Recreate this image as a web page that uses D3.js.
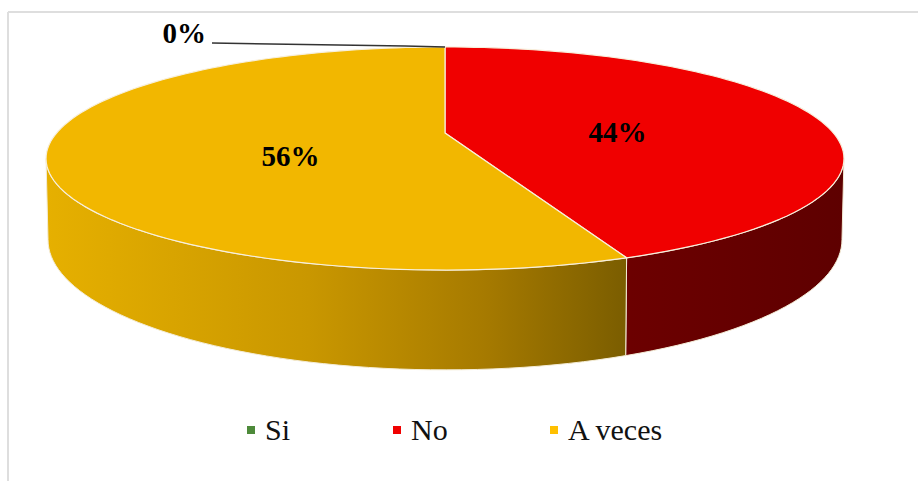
<!DOCTYPE html>
<html><head><meta charset="utf-8">
<script src="https://cdn.jsdelivr.net/npm/d3@7/dist/d3.min.js"></script>
<style>body{margin:0;background:#fff}svg{display:block}</style>
</head><body>
<svg id="c" width="918" height="481"></svg>
<script>
const categories = ["Si", "No", "A veces"];
const values = [0, 44, 56];
const labels = ["0%", "44%", "56%"];
const topColors = ["#548235", "#F00000", "#F2B700"];
const legendColors = ["#4E8A3A", "#F00000", "#FFC000"];

const W = 918, H = 481;
const svg = d3.select("#c");
const serif = "'Liberation Serif', 'Times New Roman', serif";
// frame
svg.append("line").attr("x1", 8).attr("y1", 12).attr("x2", W).attr("y2", 12).attr("stroke", "#dedede").attr("stroke-width", 2);
svg.append("line").attr("x1", 8).attr("y1", 12).attr("x2", 8).attr("y2", H).attr("stroke", "#dedede").attr("stroke-width", 2);

// perspective pie projection
const cx = 445, cy = 133, A = 388.4, B = 105.7, k = 0.2287, D = 77;
function proj(theta, r = 1) {
  const u = r * Math.sin(theta), v = -r * Math.cos(theta);
  const w = 1 - k * v;
  return [cx + A * u / w, cy + B * v / w, w];
}
function projBottom(theta) {
  const p = proj(theta);
  return [cx + (p[0] - cx) * 0.995, p[1] + D / p[2]];
}

const pie = d3.pie().sort(null).value(d => d)(values);
const defs = svg.append("defs");
const g1 = defs.append("linearGradient").attr("id", "gY").attr("gradientUnits", "userSpaceOnUse")
  .attr("x1", 45).attr("x2", 632).attr("y1", 0).attr("y2", 0);
g1.append("stop").attr("offset", 0).attr("stop-color", "#E6B000");
g1.append("stop").attr("offset", 0.45).attr("stop-color", "#C99700");
g1.append("stop").attr("offset", 0.75).attr("stop-color", "#A67A00");
g1.append("stop").attr("offset", 1).attr("stop-color", "#795C00");
const g2 = defs.append("linearGradient").attr("id", "gR").attr("gradientUnits", "userSpaceOnUse")
  .attr("x1", 630).attr("x2", 845).attr("y1", 0).attr("y2", 0);
g2.append("stop").attr("offset", 0).attr("stop-color", "#6C0000");
g2.append("stop").attr("offset", 1).attr("stop-color", "#5E0000");
const sideFill = ["#3a5a25", "url(#gR)", "url(#gY)"];

const visA = Math.acos(-k), visB = 2 * Math.PI - Math.acos(-k);
const N = 200;
function arcPts(a0, a1, fn) {
  const pts = [];
  const n = Math.max(2, Math.ceil(N * (a1 - a0) / (2 * Math.PI)));
  for (let i = 0; i <= n; i++) pts.push(fn(a0 + (a1 - a0) * i / n));
  return pts;
}
const line = d3.line();
// side walls
pie.forEach((p, i) => {
  const a0 = Math.max(p.startAngle, visA), a1 = Math.min(p.endAngle, visB);
  if (a1 <= a0) return;
  const top = arcPts(a0, a1, t => proj(t).slice(0, 2));
  const bot = arcPts(a0, a1, projBottom).reverse();
  svg.append("path").attr("d", line(top.concat(bot)) + "Z")
    .attr("fill", sideFill[i]).attr("stroke", "#f4ecd6").attr("stroke-width", 1).attr("stroke-linejoin", "round");
});
// top faces
const centroids = [];
pie.forEach((p, i) => {
  if (p.endAngle - p.startAngle <= 0) { centroids.push(null); return; }
  const pts = [[cx, cy]].concat(arcPts(p.startAngle, p.endAngle, t => proj(t).slice(0, 2)));
  centroids.push(d3.polygonCentroid(pts));
  svg.append("path").attr("d", line(pts) + "Z")
    .attr("fill", topColors[i]).attr("stroke", "#f7efdc").attr("stroke-width", 1.2).attr("stroke-linejoin", "round");
});
// labels
pie.forEach((p, i) => {
  if (centroids[i]) {
    svg.append("text").attr("x", centroids[i][0] - 21).attr("y", centroids[i][1] - 12).attr("dy", "0.35em")
      .attr("text-anchor", "middle").attr("font-family", serif).attr("font-weight", "bold")
      .attr("font-size", 29).attr("fill", "#000").text(labels[i]);
  } else {
    const tp = proj(p.startAngle);
    svg.append("path").attr("d", line([[tp[0], tp[1]], [tp[0] - 40, tp[1] - 1], [tp[0] - 233, tp[1] - 4]]))
      .attr("fill", "none").attr("stroke", "#333").attr("stroke-width", 1.5);
    svg.append("text").attr("x", tp[0] - 239).attr("y", tp[1] - 4)
      .attr("text-anchor", "end").attr("font-family", serif).attr("font-weight", "bold")
      .attr("font-size", 29).attr("fill", "#000").text(labels[i]);
  }
});
// legend
const legX = [247, 393, 550];
const leg = svg.append("g");
categories.forEach((c, i) => {
  leg.append("rect").attr("x", legX[i]).attr("y", 426).attr("width", 8).attr("height", 8).attr("fill", legendColors[i]);
  leg.append("text").attr("x", legX[i] + 18).attr("y", 440).attr("font-family", serif)
    .attr("font-size", 30).attr("fill", "#111").text(c);
});
</script>
</body></html>
